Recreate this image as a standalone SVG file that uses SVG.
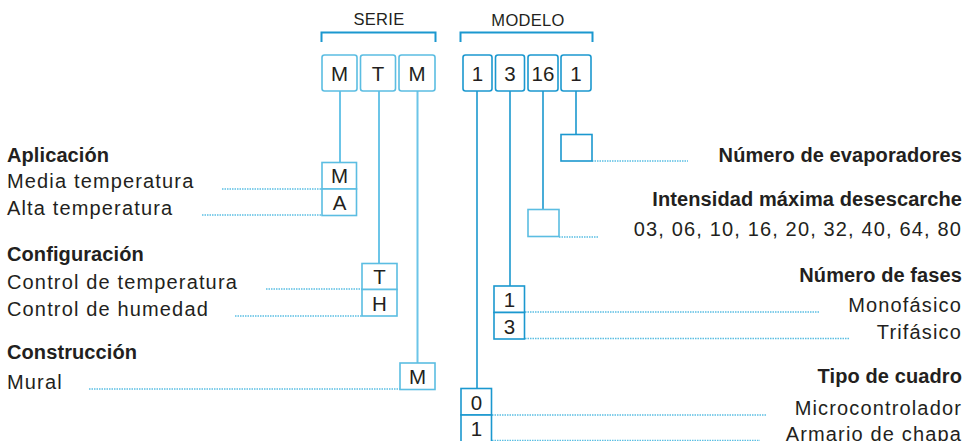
<svg xmlns="http://www.w3.org/2000/svg" width="963" height="441" viewBox="0 0 963 441">
<style>
text{font-family:"Liberation Sans",Arial,sans-serif;fill:#231f20}
.h{font-weight:bold;font-size:20px;letter-spacing:0.1px}
.t{font-size:20px;letter-spacing:1.15px}
.e{text-anchor:end}
.top{font-size:16.5px;letter-spacing:0.3px;text-anchor:middle}
.c{font-size:20.5px;text-anchor:middle}
.bs{fill:#fff;stroke:#5bbde2;stroke-width:1.6}
.bm{fill:#fff;stroke:#1b98cf;stroke-width:1.6}
.ls{stroke:#6cc5e8;stroke-width:2;fill:none}
.lm{stroke:#1b98cf;stroke-width:1.6;fill:none}
.d{stroke:#5bbfe3;stroke-width:1.5;stroke-dasharray:1.5 1;fill:none}
.br{stroke:#1b98cf;stroke-width:2;fill:none}
</style>
<g id="brackets">
<text class="top" x="379" y="25">SERIE</text>
<path class="br" d="M321.5,42 V32.5 H435.5 V42"/>
<text class="top" x="528" y="26">MODELO</text>
<path class="br" d="M460.5,42 V32.5 H592.5 V42"/>
</g>
<g id="connectors">
<path class="ls" d="M340,91 V162"/>
<path class="ls" d="M379,91 V263"/>
<path class="ls" d="M417.5,91 V363"/>
<path class="lm" d="M477,91 V388"/>
<path class="lm" d="M510,91 V286"/>
<path class="lm" d="M543,91 V209"/>
<path class="lm" d="M576,91 V134"/>
<path class="d" d="M222,189 H322"/>
<path class="d" d="M202,215 H322"/>
<path class="d" d="M266,289 H362"/>
<path class="d" d="M235,316 H362"/>
<path class="d" d="M89,389 H400"/>
<path class="d" d="M592,161 H688"/>
<path class="d" d="M559,237 H598"/>
<path class="d" d="M525,312 H820"/>
<path class="d" d="M525,338.5 H849"/>
<path class="d" d="M492,415 H767"/>
<path class="d" d="M492,440.5 H760"/>
</g>
<g id="serie-boxes">
<rect class="bs" x="322" y="55" width="35" height="36" rx="2.5"/><text class="c" x="339.5" y="81">M</text>
<rect class="bs" x="360.5" y="55" width="35" height="36" rx="2.5"/><text class="c" x="378" y="81">T</text>
<rect class="bs" x="399" y="55" width="36" height="36" rx="2.5"/><text class="c" x="417" y="81">M</text>
</g>
<g id="modelo-boxes">
<rect class="bm" x="463" y="55" width="29" height="36" rx="2.5"/><text class="c" x="477.5" y="81">1</text>
<rect class="bm" x="495.5" y="55" width="29" height="36" rx="2.5"/><text class="c" x="510" y="81">3</text>
<rect class="bm" x="528" y="55" width="30" height="36" rx="2.5"/><text class="c" x="543" y="81">16</text>
<rect class="bm" x="561" y="55" width="30" height="36" rx="2.5"/><text class="c" x="576" y="81">1</text>
</g>
<g id="aplicacion">
<text class="h" x="7" y="162">Aplicación</text>
<text class="t" x="7" y="188">Media temperatura</text>
<text class="t" x="7" y="215">Alta temperatura</text>
<rect class="bs" x="322" y="162.5" width="34.5" height="26.5"/><text class="c" x="339.5" y="183">M</text>
<rect class="bs" x="322" y="189" width="34.5" height="26.5"/><text class="c" x="339.5" y="209.5">A</text>
</g>
<g id="configuracion">
<text class="h" x="7" y="260.5">Configuración</text>
<text class="t" x="7" y="289">Control de temperatura</text>
<text class="t" x="7" y="316">Control de humedad</text>
<rect class="bs" x="362" y="263.5" width="35" height="26"/><text class="c" x="379.5" y="284">T</text>
<rect class="bs" x="362" y="289.5" width="35" height="26.5"/><text class="c" x="379.5" y="310.5">H</text>
</g>
<g id="construccion">
<text class="h" x="7" y="359">Construcción</text>
<text class="t" x="7" y="389">Mural</text>
<rect class="bs" x="400" y="363" width="35" height="26.5"/><text class="c" x="417.5" y="384">M</text>
</g>
<g id="evaporadores">
<rect class="bm" x="561" y="134.5" width="31" height="26.5"/>
<text class="h e" x="962" y="162">Número de evaporadores</text>
</g>
<g id="intensidad">
<rect class="bs" x="528" y="209.5" width="31" height="27"/>
<text class="h e" x="962" y="206">Intensidad máxima desescarche</text>
<text class="t e" x="962" y="236">03, 06, 10, 16, 20, 32, 40, 64, 80</text>
</g>
<g id="fases">
<text class="h e" x="962" y="282">Número de fases</text>
<rect class="bm" x="494" y="286" width="30.5" height="26.5"/><text class="c" x="509.5" y="307">1</text>
<rect class="bm" x="494" y="312.5" width="30.5" height="26.5"/><text class="c" x="509.5" y="333.5">3</text>
<text class="t e" x="962" y="312">Monofásico</text>
<text class="t e" x="962" y="338.5">Trifásico</text>
</g>
<g id="cuadro">
<text class="h e" x="962" y="383">Tipo de cuadro</text>
<rect class="bm" x="461" y="388.5" width="30.5" height="26.5"/><text class="c" x="476.5" y="409.5">0</text>
<rect class="bm" x="461" y="415" width="30.5" height="30"/><text class="c" x="476.5" y="436">1</text>
<text class="t e" x="962" y="415">Microcontrolador</text>
<text class="t e" x="962" y="440.5">Armario de chapa</text>
</g>
</svg>
